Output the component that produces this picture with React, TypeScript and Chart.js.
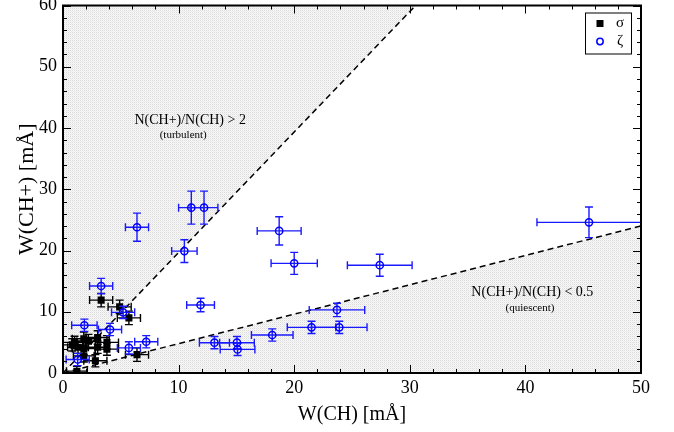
import React, { useEffect, useRef } from "react";
import { Chart, registerables } from "chart.js";

Chart.register(...registerables);

// σ (black squares)
const sigmaX = [1.2, 0.8, 1.0, 1.3, 1.8, 1.8, 2.2, 1.8, 2.8, 3.0, 3.0, 3.8, 3.8, 3.3, 4.9, 5.7, 6.4];
const sigmaY = [0.3, 4.6, 5.0, 4.2, 5.6, 4.0, 5.2, 2.8, 2.0, 5.8, 4.2, 5.0, 3.9, 11.9, 10.8, 9.0, 3.0];
const sigmaXErr = [0.9, 0.9, 1.0, 0.9, 1.0, 1.0, 1.0, 0.9, 1.0, 1.0, 1.0, 1.0, 1.0, 1.0, 1.0, 1.0, 1.0];
const sigmaYErr = [0.8, 1.0, 1.0, 1.0, 1.1, 1.0, 1.1, 1.0, 1.0, 1.1, 1.0, 1.1, 1.0, 1.1, 1.1, 1.1, 1.1];

// ζ (blue open circles)
const zetaX = [6.4, 11.1, 12.2, 10.5, 18.7, 20.0, 27.4, 11.9, 23.7, 21.5, 23.9, 18.1, 13.1, 15.05, 15.1, 45.5, 3.3, 5.2, 1.85, 4.07, 7.2, 5.7, 1.27];
const zetaY = [23.8, 27.0, 27.0, 19.9, 23.2, 17.9, 17.6, 11.1, 10.3, 7.45, 7.45, 6.2, 4.95, 4.95, 3.85, 24.6, 14.2, 9.9, 7.8, 7.1, 5.1, 4.1, 2.2];
const zetaXErr = [1.0, 1.1, 1.2, 1.1, 1.9, 2.0, 2.8, 1.2, 2.4, 2.1, 2.4, 1.8, 1.3, 1.5, 1.5, 4.5, 1.0, 1.0, 1.1, 1.0, 1.0, 1.0, 1.0];
const zetaYErr = [2.3, 2.7, 2.7, 1.85, 2.3, 1.8, 1.8, 1.1, 1.1, 1.0, 1.0, 1.0, 1.0, 1.0, 1.0, 2.5, 1.25, 1.0, 1.0, 1.0, 1.0, 1.0, 1.0];

// ratio boundary lines
const turbulentLineX = [0, 30.5];
const turbulentLineY = [0, 60];
const quiescentLineX = [0, 50];
const quiescentLineY = [0, 24];

const xMin = 0, xMax = 50, yMin = 0, yMax = 60;
const majorStep = 10;
const minorStep = 2;

const annotations = [
  { x: 11.0, y: 41.3, text: "N(CH+)/N(CH) > 2", size: 14 },
  { x: 10.4, y: 38.8, text: "(turbulent)", size: 11 },
  { x: 40.6, y: 13.1, text: "N(CH+)/N(CH) < 0.5", size: 14 },
  { x: 40.4, y: 10.6, text: "(quiescent)", size: 11 },
];

const legendItems = [
  { label: "σ", kind: "square", color: "#000000" },
  { label: "ζ", kind: "circle", color: "#0000ff" },
];

const SERIF = "'Liberation Serif', 'DejaVu Serif', serif";

function toPoints(xs: number[], ys: number[]) {
  return xs.map((x, i) => ({ x, y: ys[i] }));
}

function makePattern(): CanvasPattern | string {
  const c = document.createElement("canvas");
  c.width = 2;
  c.height = 2;
  const g = c.getContext("2d");
  if (!g) return "#f0f0f0";
  g.fillStyle = "#f8f8f8";
  g.fillRect(0, 0, 2, 2);
  g.fillStyle = "#dadada";
  g.fillRect(0, 0, 1, 1);
  g.fillStyle = "#ececec";
  g.fillRect(1, 1, 1, 1);
  const p = g.createPattern(c, "repeat");
  return p || "#f0f0f0";
}

const overlayPlugin = {
  id: "overlay",
  beforeDatasetDraw(chart: any, args: any) {
    const ds = chart.data.datasets[args.index];
    if (!ds.errX) return;
    const { ctx, chartArea } = chart;
    const xs = chart.scales.x;
    const ys = chart.scales.y;
    ctx.save();
    ctx.beginPath();
    ctx.rect(chartArea.left, chartArea.top, chartArea.right - chartArea.left, chartArea.bottom - chartArea.top);
    ctx.clip();
    ctx.strokeStyle = ds.errColor;
    ctx.lineWidth = 1.4;
    const cap = 4;
    ds.data.forEach((p: any, i: number) => {
      const px = xs.getPixelForValue(p.x);
      const py = ys.getPixelForValue(p.y);
      const x1 = xs.getPixelForValue(p.x - ds.errX[i]);
      const x2 = xs.getPixelForValue(p.x + ds.errX[i]);
      const y1 = ys.getPixelForValue(p.y - ds.errY[i]);
      const y2 = ys.getPixelForValue(p.y + ds.errY[i]);
      ctx.beginPath();
      ctx.moveTo(x1, py);
      ctx.lineTo(x2, py);
      ctx.moveTo(x1, py - cap);
      ctx.lineTo(x1, py + cap);
      ctx.moveTo(x2, py - cap);
      ctx.lineTo(x2, py + cap);
      ctx.moveTo(px, y1);
      ctx.lineTo(px, y2);
      ctx.moveTo(px - cap, y1);
      ctx.lineTo(px + cap, y1);
      ctx.moveTo(px - cap, y2);
      ctx.lineTo(px + cap, y2);
      ctx.stroke();
    });
    ctx.restore();
  },
  afterDraw(chart: any) {
    const { ctx, chartArea } = chart;
    const xs = chart.scales.x;
    const ys = chart.scales.y;
    const { left, right, top, bottom } = chartArea;
    ctx.save();
    // ticks (inward, all four sides)
    ctx.strokeStyle = "#000";
    ctx.lineWidth = 1;
    ctx.beginPath();
    for (let v = xMin; v <= xMax + 1e-9; v += minorStep) {
      const len = Math.abs(v % majorStep) < 1e-9 ? 8 : 4;
      const px = Math.round(xs.getPixelForValue(v)) + 0.5;
      ctx.moveTo(px, bottom);
      ctx.lineTo(px, bottom - len);
      ctx.moveTo(px, top);
      ctx.lineTo(px, top + len);
    }
    for (let v = yMin; v <= yMax + 1e-9; v += minorStep) {
      const len = Math.abs(v % majorStep) < 1e-9 ? 8 : 4;
      const py = Math.round(ys.getPixelForValue(v)) + 0.5;
      ctx.moveTo(left, py);
      ctx.lineTo(left + len, py);
      ctx.moveTo(right, py);
      ctx.lineTo(right - len, py);
    }
    ctx.stroke();
    // frame
    ctx.lineWidth = 2;
    ctx.strokeRect(left, top, right - left, bottom - top);

    // annotations
    ctx.fillStyle = "#000";
    ctx.textAlign = "center";
    ctx.textBaseline = "middle";
    annotations.forEach((a) => {
      ctx.font = `${a.size}px ${SERIF}`;
      ctx.fillText(a.text, xs.getPixelForValue(a.x), ys.getPixelForValue(a.y));
    });

    // legend
    const bw = 46, bh = 41;
    const bx = right - 56, by = top + 7;
    ctx.lineWidth = 1;
    ctx.fillStyle = "#fff";
    ctx.fillRect(bx, by, bw, bh);
    ctx.strokeStyle = "#000";
    ctx.strokeRect(bx + 0.5, by + 0.5, bw, bh);
    legendItems.forEach((it, i) => {
      const cy = by + 11 + i * 18;
      const mx = bx + 15;
      if (it.kind === "square") {
        ctx.fillStyle = it.color;
        ctx.fillRect(mx - 3.5, cy - 3.5, 7, 7);
      } else {
        ctx.strokeStyle = it.color;
        ctx.lineWidth = 1.5;
        ctx.beginPath();
        ctx.arc(mx, cy, 3.2, 0, Math.PI * 2);
        ctx.stroke();
      }
      ctx.fillStyle = "#000";
      ctx.font = `15px ${SERIF}`;
      ctx.textAlign = "center";
      ctx.textBaseline = "middle";
      ctx.fillText(it.label, bx + 35, cy);
    });
    ctx.restore();
  },
};

export default function App() {
  const ref = useRef<HTMLCanvasElement | null>(null);
  useEffect(() => {
    if (!ref.current) return;
    const pattern = makePattern();
    const chart = new Chart(ref.current, {
      type: "scatter",
      data: {
        datasets: [
          {
            label: "σ",
            data: toPoints(sigmaX, sigmaY),
            pointStyle: "rect",
            pointRadius: 5,
            pointBackgroundColor: "#000",
            pointBorderColor: "#000",
            pointBorderWidth: 0,
            order: 1,
            errX: sigmaXErr,
            errY: sigmaYErr,
            errColor: "#000000",
          } as any,
          {
            label: "ζ",
            data: toPoints(zetaX, zetaY),
            pointStyle: "circle",
            pointRadius: 3.6,
            pointBackgroundColor: "rgba(0,0,0,0)",
            pointBorderColor: "#0000ff",
            pointBorderWidth: 1.5,
            order: 0,
            errX: zetaXErr,
            errY: zetaYErr,
            errColor: "#1a1aff",
          } as any,
          {
            label: "turbulent",
            data: toPoints(turbulentLineX, turbulentLineY),
            showLine: true,
            borderColor: "#000",
            borderWidth: 1.5,
            borderDash: [6, 4],
            pointRadius: 0,
            fill: "end",
            backgroundColor: pattern as any,
            order: 5,
          },
          {
            label: "quiescent",
            data: toPoints(quiescentLineX, quiescentLineY),
            showLine: true,
            borderColor: "#000",
            borderWidth: 1.5,
            borderDash: [6, 4],
            pointRadius: 0,
            fill: "start",
            backgroundColor: pattern as any,
            order: 4,
          },
        ],
      },
      options: {
        animation: false,
        responsive: false,
        devicePixelRatio: 1,
        layout: { padding: { top: 5, right: 33, left: 0, bottom: 0 } },
        plugins: {
          legend: { display: false },
          tooltip: { enabled: false },
        },
        scales: {
          x: {
            type: "linear",
            min: xMin,
            max: xMax,
            grid: { display: false, drawTicks: false },
            border: { display: false },
            ticks: {
              stepSize: majorStep,
              color: "#000",
              padding: 4,
              font: { family: SERIF, size: 18 },
            },
            title: {
              display: true,
              text: "W(CH) [mÅ]",
              color: "#000",
              font: { family: SERIF, size: 20 },
              padding: { top: 0, bottom: 5 },
            },
            afterFit: (s: any) => {
              s.height = 59;
              s.paddingLeft = 0;
              s.paddingRight = 0;
            },
          },
          y: {
            type: "linear",
            min: yMin,
            max: yMax,
            grid: { display: false, drawTicks: false },
            border: { display: false },
            ticks: {
              stepSize: majorStep,
              color: "#000",
              padding: 6,
              font: { family: SERIF, size: 18 },
            },
            title: {
              display: true,
              text: "W(CH+) [mÅ]",
              color: "#000",
              font: { family: SERIF, size: 22 },
              padding: { top: 14, bottom: 0 },
            },
            afterFit: (s: any) => {
              s.width = 63;
              s.paddingTop = 0;
              s.paddingBottom = 0;
            },
          },
        },
      } as any,
      plugins: [overlayPlugin],
    });
    return () => chart.destroy();
  }, []);
  return (
    <div style={{ position: "absolute", left: 0, top: 0, width: 674, height: 432, background: "#fff" }}>
      <canvas ref={ref} width={674} height={432} />
    </div>
  );
}
